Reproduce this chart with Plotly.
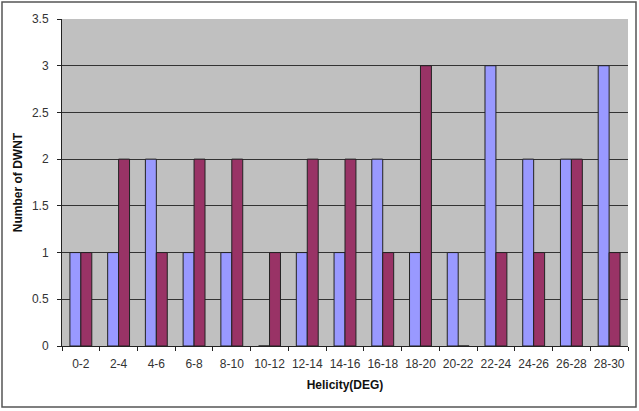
import plotly.graph_objects as go

categories = ["0-2", "2-4", "4-6", "6-8", "8-10", "10-12", "12-14", "14-16",
              "16-18", "18-20", "20-22", "22-24", "24-26", "26-28", "28-30"]
series_a = [1, 1, 2, 1, 1, 0, 1, 1, 2, 1, 1, 3, 2, 2, 3]
series_b = [1, 2, 1, 2, 2, 1, 2, 2, 1, 3, 0, 1, 1, 2, 1]
y_ticks = [0, 0.5, 1, 1.5, 2, 2.5, 3, 3.5]
y_labels = ["0", "0.5", "1", "1.5", "2", "2.5", "3", "3.5"]

W, H = 639, 411
L, R, T, B = 62, 11, 19, 65
pw, ph = W - L - R, H - T - B

fig = go.Figure()
fig.add_trace(go.Bar(x=categories, y=series_a, marker=dict(color="#9999FF", line=dict(color="#222222", width=1)), showlegend=False))
fig.add_trace(go.Bar(x=categories, y=series_b, marker=dict(color="#993366", line=dict(color="#222222", width=1)), showlegend=False))

font = dict(family="Liberation Sans, Arial, sans-serif", size=12, color="#333333")

def px_x(x):
    return (x - L) / pw

def px_y(y):
    return (H - B - y) / ph

fig.update_layout(
    width=W, height=H,
    margin=dict(l=L, r=R, t=T, b=B),
    paper_bgcolor="white",
    plot_bgcolor="#C0C0C0",
    barmode="group",
    bargap=0.42,
    bargroupgap=0,
    font=font,
    xaxis=dict(
        type="category", tickangle=0,
        showgrid=False, showline=True, linecolor="#222222", linewidth=1,
        ticks="outside", tickson="boundaries", ticklen=4, tickcolor="#222222",
        ticklabelstandoff=7,
        title=dict(text="<b>Helicity(DEG)</b>", font=dict(size=12, color="#111111"), standoff=10),
        tickfont=dict(size=12),
    ),
    yaxis=dict(
        range=[0, 3.5], tickvals=y_ticks, ticktext=y_labels,
        showgrid=True, gridcolor="#333333", gridwidth=1,
        showline=True, linecolor="#222222", linewidth=1,
        ticks="outside", ticklen=4, tickcolor="#222222",
        ticklabelstandoff=6,
        title=dict(text="<b>Number of DWNT</b>", font=dict(size=12, color="#111111"), standoff=6),
        tickfont=dict(size=12), zeroline=False,
    ),
    shapes=[dict(type="rect", xref="paper", yref="paper",
                 x0=px_x(2), x1=px_x(636), y0=px_y(407), y1=px_y(2),
                 line=dict(color="#555555", width=1.5), layer="below")],
)

fig.write_html("out.html")
